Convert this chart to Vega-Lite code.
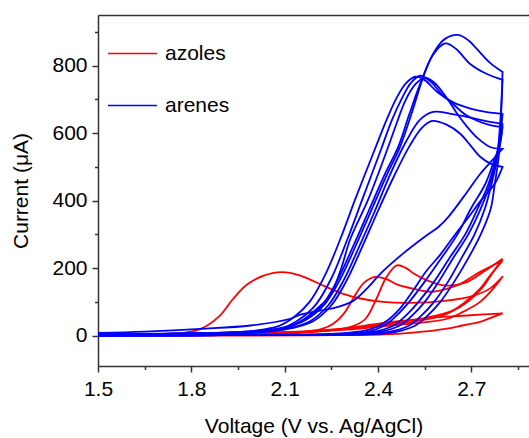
{
"$schema": "https://vega.github.io/schema/vega-lite/v6.json",
"width": 431, "height": 351,
"autosize": {"type": "none"},
"padding": {"left": 98, "top": 15, "right": 0, "bottom": 72},
"background": "white",
"config": {"view": {"stroke": null}, "font": "Liberation Sans"},
"datasets": {"cv": [
{"g":"azoles","s":"a1","v":1.5,"c":3},{"g":"azoles","s":"a1","v":1.6,"c":4},{"g":"azoles","s":"a1","v":1.7,"c":5},{"g":"azoles","s":"a1","v":1.78,"c":9},{"g":"azoles","s":"a1","v":1.83,"c":20},{"g":"azoles","s":"a1","v":1.89,"c":58},{"g":"azoles","s":"a1","v":1.935,"c":110},{"g":"azoles","s":"a1","v":1.98,"c":152},{"g":"azoles","s":"a1","v":2.03,"c":177},{"g":"azoles","s":"a1","v":2.09,"c":188},{"g":"azoles","s":"a1","v":2.15,"c":178},{"g":"azoles","s":"a1","v":2.224,"c":148},{"g":"azoles","s":"a1","v":2.288,"c":124},{"g":"azoles","s":"a1","v":2.343,"c":110},{"g":"azoles","s":"a1","v":2.416,"c":100},{"g":"azoles","s":"a1","v":2.5,"c":97},{"g":"azoles","s":"a1","v":2.62,"c":104},{"g":"azoles","s":"a1","v":2.706,"c":118},{"g":"azoles","s":"a1","v":2.76,"c":140},{"g":"azoles","s":"a1","v":2.8,"c":175},{"g":"azoles","s":"a1","v":2.8,"c":175},{"g":"azoles","s":"a1","v":2.77,"c":139},{"g":"azoles","s":"a1","v":2.728,"c":100},{"g":"azoles","s":"a1","v":2.674,"c":71},{"g":"azoles","s":"a1","v":2.622,"c":50},{"g":"azoles","s":"a1","v":2.513,"c":36},{"g":"azoles","s":"a1","v":2.407,"c":27},{"g":"azoles","s":"a1","v":2.3,"c":18},{"g":"azoles","s":"a1","v":2.15,"c":10},{"g":"azoles","s":"a1","v":1.95,"c":6},{"g":"azoles","s":"a1","v":1.7,"c":4},{"g":"azoles","s":"a1","v":1.5,"c":2},
{"g":"azoles","s":"a2","v":1.5,"c":1},{"g":"azoles","s":"a2","v":1.8,"c":3},{"g":"azoles","s":"a2","v":2.0,"c":5},{"g":"azoles","s":"a2","v":2.15,"c":10},{"g":"azoles","s":"a2","v":2.22,"c":20},{"g":"azoles","s":"a2","v":2.256,"c":35},{"g":"azoles","s":"a2","v":2.29,"c":65},{"g":"azoles","s":"a2","v":2.32,"c":110},{"g":"azoles","s":"a2","v":2.353,"c":155},{"g":"azoles","s":"a2","v":2.39,"c":174},{"g":"azoles","s":"a2","v":2.425,"c":168},{"g":"azoles","s":"a2","v":2.46,"c":152},{"g":"azoles","s":"a2","v":2.513,"c":139},{"g":"azoles","s":"a2","v":2.568,"c":130},{"g":"azoles","s":"a2","v":2.622,"c":139},{"g":"azoles","s":"a2","v":2.664,"c":153},{"g":"azoles","s":"a2","v":2.728,"c":189},{"g":"azoles","s":"a2","v":2.8,"c":222},{"g":"azoles","s":"a2","v":2.8,"c":222},{"g":"azoles","s":"a2","v":2.76,"c":178},{"g":"azoles","s":"a2","v":2.728,"c":139},{"g":"azoles","s":"a2","v":2.674,"c":95},{"g":"azoles","s":"a2","v":2.622,"c":65},{"g":"azoles","s":"a2","v":2.513,"c":41},{"g":"azoles","s":"a2","v":2.407,"c":30},{"g":"azoles","s":"a2","v":2.3,"c":20},{"g":"azoles","s":"a2","v":2.15,"c":11},{"g":"azoles","s":"a2","v":1.95,"c":6},{"g":"azoles","s":"a2","v":1.7,"c":3},{"g":"azoles","s":"a2","v":1.5,"c":1},
{"g":"azoles","s":"a3","v":1.5,"c":2},{"g":"azoles","s":"a3","v":1.8,"c":4},{"g":"azoles","s":"a3","v":2.0,"c":6},{"g":"azoles","s":"a3","v":2.15,"c":10},{"g":"azoles","s":"a3","v":2.25,"c":16},{"g":"azoles","s":"a3","v":2.32,"c":28},{"g":"azoles","s":"a3","v":2.36,"c":50},{"g":"azoles","s":"a3","v":2.395,"c":110},{"g":"azoles","s":"a3","v":2.425,"c":170},{"g":"azoles","s":"a3","v":2.46,"c":208},{"g":"azoles","s":"a3","v":2.49,"c":200},{"g":"azoles","s":"a3","v":2.513,"c":185},{"g":"azoles","s":"a3","v":2.568,"c":160},{"g":"azoles","s":"a3","v":2.622,"c":148},{"g":"azoles","s":"a3","v":2.68,"c":157},{"g":"azoles","s":"a3","v":2.74,"c":190},{"g":"azoles","s":"a3","v":2.8,"c":228},{"g":"azoles","s":"a3","v":2.8,"c":228},{"g":"azoles","s":"a3","v":2.765,"c":182},{"g":"azoles","s":"a3","v":2.735,"c":142},{"g":"azoles","s":"a3","v":2.69,"c":102},{"g":"azoles","s":"a3","v":2.64,"c":74},{"g":"azoles","s":"a3","v":2.55,"c":52},{"g":"azoles","s":"a3","v":2.45,"c":37},{"g":"azoles","s":"a3","v":2.35,"c":26},{"g":"azoles","s":"a3","v":2.2,"c":15},{"g":"azoles","s":"a3","v":2.0,"c":8},{"g":"azoles","s":"a3","v":1.7,"c":4},{"g":"azoles","s":"a3","v":1.5,"c":2},
{"g":"azoles","s":"a4","v":1.5,"c":2},{"g":"azoles","s":"a4","v":1.8,"c":4},{"g":"azoles","s":"a4","v":2.0,"c":6},{"g":"azoles","s":"a4","v":2.2,"c":12},{"g":"azoles","s":"a4","v":2.3,"c":22},{"g":"azoles","s":"a4","v":2.407,"c":36},{"g":"azoles","s":"a4","v":2.513,"c":47},{"g":"azoles","s":"a4","v":2.622,"c":56},{"g":"azoles","s":"a4","v":2.728,"c":62},{"g":"azoles","s":"a4","v":2.8,"c":66},{"g":"azoles","s":"a4","v":2.8,"c":66},{"g":"azoles","s":"a4","v":2.76,"c":52},{"g":"azoles","s":"a4","v":2.728,"c":41},{"g":"azoles","s":"a4","v":2.67,"c":30},{"g":"azoles","s":"a4","v":2.622,"c":21},{"g":"azoles","s":"a4","v":2.513,"c":9},{"g":"azoles","s":"a4","v":2.407,"c":3},{"g":"azoles","s":"a4","v":2.2,"c":1},{"g":"azoles","s":"a4","v":1.9,"c":0},{"g":"azoles","s":"a4","v":1.5,"c":0},
{"g":"arenes","s":"b1","v":1.5,"c":4},{"g":"arenes","s":"b1","v":1.7,"c":6},{"g":"arenes","s":"b1","v":1.9,"c":9},{"g":"arenes","s":"b1","v":2.0,"c":13},{"g":"arenes","s":"b1","v":2.1,"c":24},{"g":"arenes","s":"b1","v":2.17,"c":48},{"g":"arenes","s":"b1","v":2.23,"c":95},{"g":"arenes","s":"b1","v":2.28,"c":170},{"g":"arenes","s":"b1","v":2.33,"c":270},{"g":"arenes","s":"b1","v":2.38,"c":375},{"g":"arenes","s":"b1","v":2.43,"c":480},{"g":"arenes","s":"b1","v":2.471,"c":560},{"g":"arenes","s":"b1","v":2.51,"c":665},{"g":"arenes","s":"b1","v":2.545,"c":766},{"g":"arenes","s":"b1","v":2.58,"c":840},{"g":"arenes","s":"b1","v":2.616,"c":880},{"g":"arenes","s":"b1","v":2.657,"c":891},{"g":"arenes","s":"b1","v":2.69,"c":875},{"g":"arenes","s":"b1","v":2.718,"c":849},{"g":"arenes","s":"b1","v":2.76,"c":808},{"g":"arenes","s":"b1","v":2.8,"c":781},{"g":"arenes","s":"b1","v":2.8,"c":781},{"g":"arenes","s":"b1","v":2.797,"c":700},{"g":"arenes","s":"b1","v":2.793,"c":600},{"g":"arenes","s":"b1","v":2.787,"c":524},{"g":"arenes","s":"b1","v":2.775,"c":450},{"g":"arenes","s":"b1","v":2.762,"c":376},{"g":"arenes","s":"b1","v":2.73,"c":300},{"g":"arenes","s":"b1","v":2.689,"c":228},{"g":"arenes","s":"b1","v":2.645,"c":160},{"g":"arenes","s":"b1","v":2.6,"c":100},{"g":"arenes","s":"b1","v":2.56,"c":60},{"g":"arenes","s":"b1","v":2.52,"c":30},{"g":"arenes","s":"b1","v":2.45,"c":10},{"g":"arenes","s":"b1","v":2.35,"c":4},{"g":"arenes","s":"b1","v":2.1,"c":2},{"g":"arenes","s":"b1","v":1.8,"c":1},{"g":"arenes","s":"b1","v":1.5,"c":0},
{"g":"arenes","s":"b2","v":1.5,"c":3},{"g":"arenes","s":"b2","v":1.7,"c":5},{"g":"arenes","s":"b2","v":1.9,"c":8},{"g":"arenes","s":"b2","v":2.0,"c":12},{"g":"arenes","s":"b2","v":2.1,"c":22},{"g":"arenes","s":"b2","v":2.16,"c":45},{"g":"arenes","s":"b2","v":2.22,"c":90},{"g":"arenes","s":"b2","v":2.27,"c":165},{"g":"arenes","s":"b2","v":2.32,"c":265},{"g":"arenes","s":"b2","v":2.37,"c":370},{"g":"arenes","s":"b2","v":2.42,"c":475},{"g":"arenes","s":"b2","v":2.465,"c":560},{"g":"arenes","s":"b2","v":2.5,"c":655},{"g":"arenes","s":"b2","v":2.535,"c":745},{"g":"arenes","s":"b2","v":2.575,"c":830},{"g":"arenes","s":"b2","v":2.616,"c":866},{"g":"arenes","s":"b2","v":2.65,"c":850},{"g":"arenes","s":"b2","v":2.696,"c":805},{"g":"arenes","s":"b2","v":2.75,"c":775},{"g":"arenes","s":"b2","v":2.8,"c":758},{"g":"arenes","s":"b2","v":2.8,"c":758},{"g":"arenes","s":"b2","v":2.796,"c":680},{"g":"arenes","s":"b2","v":2.79,"c":600},{"g":"arenes","s":"b2","v":2.782,"c":524},{"g":"arenes","s":"b2","v":2.765,"c":450},{"g":"arenes","s":"b2","v":2.743,"c":376},{"g":"arenes","s":"b2","v":2.71,"c":300},{"g":"arenes","s":"b2","v":2.667,"c":228},{"g":"arenes","s":"b2","v":2.625,"c":160},{"g":"arenes","s":"b2","v":2.58,"c":100},{"g":"arenes","s":"b2","v":2.54,"c":60},{"g":"arenes","s":"b2","v":2.5,"c":30},{"g":"arenes","s":"b2","v":2.43,"c":10},{"g":"arenes","s":"b2","v":2.33,"c":4},{"g":"arenes","s":"b2","v":2.1,"c":2},{"g":"arenes","s":"b2","v":1.8,"c":1},{"g":"arenes","s":"b2","v":1.5,"c":0},
{"g":"arenes","s":"b3","v":1.5,"c":3},{"g":"arenes","s":"b3","v":1.7,"c":5},{"g":"arenes","s":"b3","v":1.9,"c":9},{"g":"arenes","s":"b3","v":2.0,"c":14},{"g":"arenes","s":"b3","v":2.08,"c":28},{"g":"arenes","s":"b3","v":2.13,"c":55},{"g":"arenes","s":"b3","v":2.18,"c":100},{"g":"arenes","s":"b3","v":2.23,"c":180},{"g":"arenes","s":"b3","v":2.279,"c":287},{"g":"arenes","s":"b3","v":2.327,"c":405},{"g":"arenes","s":"b3","v":2.39,"c":553},{"g":"arenes","s":"b3","v":2.43,"c":645},{"g":"arenes","s":"b3","v":2.46,"c":705},{"g":"arenes","s":"b3","v":2.49,"c":748},{"g":"arenes","s":"b3","v":2.52,"c":767},{"g":"arenes","s":"b3","v":2.55,"c":757},{"g":"arenes","s":"b3","v":2.59,"c":722},{"g":"arenes","s":"b3","v":2.64,"c":692},{"g":"arenes","s":"b3","v":2.7,"c":672},{"g":"arenes","s":"b3","v":2.75,"c":662},{"g":"arenes","s":"b3","v":2.8,"c":657},{"g":"arenes","s":"b3","v":2.8,"c":657},{"g":"arenes","s":"b3","v":2.792,"c":590},{"g":"arenes","s":"b3","v":2.778,"c":524},{"g":"arenes","s":"b3","v":2.755,"c":450},{"g":"arenes","s":"b3","v":2.72,"c":376},{"g":"arenes","s":"b3","v":2.68,"c":300},{"g":"arenes","s":"b3","v":2.628,"c":228},{"g":"arenes","s":"b3","v":2.58,"c":160},{"g":"arenes","s":"b3","v":2.53,"c":100},{"g":"arenes","s":"b3","v":2.49,"c":60},{"g":"arenes","s":"b3","v":2.45,"c":30},{"g":"arenes","s":"b3","v":2.38,"c":10},{"g":"arenes","s":"b3","v":2.28,"c":4},{"g":"arenes","s":"b3","v":2.0,"c":2},{"g":"arenes","s":"b3","v":1.5,"c":0},
{"g":"arenes","s":"b4","v":1.5,"c":3},{"g":"arenes","s":"b4","v":1.7,"c":5},{"g":"arenes","s":"b4","v":1.9,"c":8},{"g":"arenes","s":"b4","v":2.0,"c":12},{"g":"arenes","s":"b4","v":2.1,"c":25},{"g":"arenes","s":"b4","v":2.15,"c":50},{"g":"arenes","s":"b4","v":2.2,"c":92},{"g":"arenes","s":"b4","v":2.25,"c":170},{"g":"arenes","s":"b4","v":2.302,"c":287},{"g":"arenes","s":"b4","v":2.35,"c":405},{"g":"arenes","s":"b4","v":2.41,"c":553},{"g":"arenes","s":"b4","v":2.445,"c":640},{"g":"arenes","s":"b4","v":2.475,"c":700},{"g":"arenes","s":"b4","v":2.505,"c":748},{"g":"arenes","s":"b4","v":2.535,"c":770},{"g":"arenes","s":"b4","v":2.57,"c":752},{"g":"arenes","s":"b4","v":2.6,"c":720},{"g":"arenes","s":"b4","v":2.64,"c":687},{"g":"arenes","s":"b4","v":2.68,"c":655},{"g":"arenes","s":"b4","v":2.72,"c":636},{"g":"arenes","s":"b4","v":2.76,"c":624},{"g":"arenes","s":"b4","v":2.8,"c":618},{"g":"arenes","s":"b4","v":2.8,"c":618},{"g":"arenes","s":"b4","v":2.79,"c":560},{"g":"arenes","s":"b4","v":2.775,"c":524},{"g":"arenes","s":"b4","v":2.745,"c":450},{"g":"arenes","s":"b4","v":2.698,"c":376},{"g":"arenes","s":"b4","v":2.655,"c":300},{"g":"arenes","s":"b4","v":2.602,"c":228},{"g":"arenes","s":"b4","v":2.55,"c":160},{"g":"arenes","s":"b4","v":2.5,"c":100},{"g":"arenes","s":"b4","v":2.46,"c":60},{"g":"arenes","s":"b4","v":2.42,"c":30},{"g":"arenes","s":"b4","v":2.36,"c":10},{"g":"arenes","s":"b4","v":2.26,"c":4},{"g":"arenes","s":"b4","v":2.0,"c":2},{"g":"arenes","s":"b4","v":1.5,"c":0},
{"g":"arenes","s":"b5","v":1.5,"c":2},{"g":"arenes","s":"b5","v":1.7,"c":4},{"g":"arenes","s":"b5","v":1.9,"c":7},{"g":"arenes","s":"b5","v":2.0,"c":11},{"g":"arenes","s":"b5","v":2.1,"c":22},{"g":"arenes","s":"b5","v":2.16,"c":48},{"g":"arenes","s":"b5","v":2.21,"c":85},{"g":"arenes","s":"b5","v":2.246,"c":120},{"g":"arenes","s":"b5","v":2.28,"c":195},{"g":"arenes","s":"b5","v":2.311,"c":287},{"g":"arenes","s":"b5","v":2.369,"c":405},{"g":"arenes","s":"b5","v":2.43,"c":553},{"g":"arenes","s":"b5","v":2.46,"c":630},{"g":"arenes","s":"b5","v":2.487,"c":695},{"g":"arenes","s":"b5","v":2.52,"c":745},{"g":"arenes","s":"b5","v":2.55,"c":764},{"g":"arenes","s":"b5","v":2.58,"c":750},{"g":"arenes","s":"b5","v":2.62,"c":705},{"g":"arenes","s":"b5","v":2.66,"c":650},{"g":"arenes","s":"b5","v":2.687,"c":618},{"g":"arenes","s":"b5","v":2.72,"c":585},{"g":"arenes","s":"b5","v":2.76,"c":559},{"g":"arenes","s":"b5","v":2.8,"c":553},{"g":"arenes","s":"b5","v":2.8,"c":553},{"g":"arenes","s":"b5","v":2.771,"c":524},{"g":"arenes","s":"b5","v":2.728,"c":479},{"g":"arenes","s":"b5","v":2.677,"c":414},{"g":"arenes","s":"b5","v":2.626,"c":352},{"g":"arenes","s":"b5","v":2.594,"c":322},{"g":"arenes","s":"b5","v":2.55,"c":293},{"g":"arenes","s":"b5","v":2.48,"c":243},{"g":"arenes","s":"b5","v":2.407,"c":183},{"g":"arenes","s":"b5","v":2.37,"c":145},{"g":"arenes","s":"b5","v":2.32,"c":103},{"g":"arenes","s":"b5","v":2.26,"c":82},{"g":"arenes","s":"b5","v":2.2,"c":72},{"g":"arenes","s":"b5","v":2.15,"c":62},{"g":"arenes","s":"b5","v":2.118,"c":50},{"g":"arenes","s":"b5","v":1.99,"c":30},{"g":"arenes","s":"b5","v":1.83,"c":20},{"g":"arenes","s":"b5","v":1.65,"c":12},{"g":"arenes","s":"b5","v":1.5,"c":8},
{"g":"arenes","s":"b6","v":1.5,"c":2},{"g":"arenes","s":"b6","v":1.7,"c":4},{"g":"arenes","s":"b6","v":1.9,"c":7},{"g":"arenes","s":"b6","v":2.0,"c":10},{"g":"arenes","s":"b6","v":2.1,"c":20},{"g":"arenes","s":"b6","v":2.18,"c":42},{"g":"arenes","s":"b6","v":2.24,"c":90},{"g":"arenes","s":"b6","v":2.29,"c":165},{"g":"arenes","s":"b6","v":2.34,"c":265},{"g":"arenes","s":"b6","v":2.39,"c":370},{"g":"arenes","s":"b6","v":2.44,"c":480},{"g":"arenes","s":"b6","v":2.49,"c":575},{"g":"arenes","s":"b6","v":2.535,"c":640},{"g":"arenes","s":"b6","v":2.577,"c":663},{"g":"arenes","s":"b6","v":2.63,"c":658},{"g":"arenes","s":"b6","v":2.686,"c":648},{"g":"arenes","s":"b6","v":2.74,"c":637},{"g":"arenes","s":"b6","v":2.8,"c":627},{"g":"arenes","s":"b6","v":2.8,"c":627},{"g":"arenes","s":"b6","v":2.792,"c":570},{"g":"arenes","s":"b6","v":2.78,"c":524},{"g":"arenes","s":"b6","v":2.76,"c":450},{"g":"arenes","s":"b6","v":2.73,"c":376},{"g":"arenes","s":"b6","v":2.69,"c":300},{"g":"arenes","s":"b6","v":2.64,"c":228},{"g":"arenes","s":"b6","v":2.595,"c":160},{"g":"arenes","s":"b6","v":2.55,"c":100},{"g":"arenes","s":"b6","v":2.51,"c":60},{"g":"arenes","s":"b6","v":2.47,"c":30},{"g":"arenes","s":"b6","v":2.4,"c":10},{"g":"arenes","s":"b6","v":2.3,"c":4},{"g":"arenes","s":"b6","v":2.0,"c":2},{"g":"arenes","s":"b6","v":1.5,"c":0},
{"g":"arenes","s":"b7","v":1.5,"c":2},{"g":"arenes","s":"b7","v":1.7,"c":4},{"g":"arenes","s":"b7","v":1.9,"c":6},{"g":"arenes","s":"b7","v":2.0,"c":9},{"g":"arenes","s":"b7","v":2.1,"c":18},{"g":"arenes","s":"b7","v":2.19,"c":42},{"g":"arenes","s":"b7","v":2.25,"c":90},{"g":"arenes","s":"b7","v":2.3,"c":165},{"g":"arenes","s":"b7","v":2.35,"c":265},{"g":"arenes","s":"b7","v":2.4,"c":370},{"g":"arenes","s":"b7","v":2.45,"c":470},{"g":"arenes","s":"b7","v":2.5,"c":560},{"g":"arenes","s":"b7","v":2.54,"c":615},{"g":"arenes","s":"b7","v":2.574,"c":636},{"g":"arenes","s":"b7","v":2.62,"c":625},{"g":"arenes","s":"b7","v":2.664,"c":598},{"g":"arenes","s":"b7","v":2.7,"c":560},{"g":"arenes","s":"b7","v":2.728,"c":530},{"g":"arenes","s":"b7","v":2.765,"c":508},{"g":"arenes","s":"b7","v":2.8,"c":500},{"g":"arenes","s":"b7","v":2.8,"c":500},{"g":"arenes","s":"b7","v":2.775,"c":450},{"g":"arenes","s":"b7","v":2.73,"c":400},{"g":"arenes","s":"b7","v":2.69,"c":350},{"g":"arenes","s":"b7","v":2.64,"c":290},{"g":"arenes","s":"b7","v":2.6,"c":240},{"g":"arenes","s":"b7","v":2.554,"c":190},{"g":"arenes","s":"b7","v":2.51,"c":130},{"g":"arenes","s":"b7","v":2.47,"c":80},{"g":"arenes","s":"b7","v":2.43,"c":45},{"g":"arenes","s":"b7","v":2.38,"c":20},{"g":"arenes","s":"b7","v":2.3,"c":8},{"g":"arenes","s":"b7","v":2.1,"c":3},{"g":"arenes","s":"b7","v":1.5,"c":0}
]},
"layer": [
{"data": {"name": "cv"},
 "mark": {"type": "line", "interpolate": "catmull-rom", "strokeWidth": 1.8},
 "encoding": {
  "x": {"field": "v", "type": "quantitative",
   "scale": {"domain": [1.5, 2.885], "nice": false, "zero": false},
   "axis": {"values": [1.5,1.65,1.8,1.95,2.1,2.25,2.4,2.55,2.7,2.85], "format": ".1f",
    "labelExpr": "round(datum.value*100) % 30 == 0 ? datum.label : ''",
    "tickSize": {"condition": {"test": "round(datum.value*100) % 30 == 0", "value": 6}, "value": 3.5},
    "grid": false, "title": "Voltage (V vs. Ag/AgCl)", "domainColor": "#333", "tickColor": "#333",
    "domainWidth": 1.5, "tickWidth": 1.5, "labelFontSize": 21, "titleFontSize": 21, "titleFontWeight": "normal",
    "labelColor": "black", "titleColor": "black", "labelPadding": 6, "titlePadding": 16, "labelFlush": false, "labelOverlap": false}},
  "y": {"field": "c", "type": "quantitative",
   "scale": {"domain": [-90, 950], "nice": false, "zero": false},
   "axis": {"values": [0,100,200,300,400,500,600,700,800,900],
    "labelExpr": "datum.value % 200 == 0 ? datum.label : ''",
    "tickSize": {"condition": {"test": "datum.value % 200 == 0", "value": 6}, "value": 3.5},
    "grid": false, "title": "Current (μA)", "domainColor": "#333", "tickColor": "#333",
    "domainWidth": 1.5, "tickWidth": 1.5, "labelFontSize": 21, "titleFontSize": 21, "titleFontWeight": "normal",
    "labelColor": "black", "titleColor": "black", "labelPadding": 5, "titlePadding": 20, "labelOverlap": false}},
  "color": {"field": "g", "type": "nominal",
   "scale": {"domain": ["azoles", "arenes"], "range": ["#ff0000", "#0000ff"]},
   "legend": {"title": null, "orient": "none", "legendX": 9, "legendY": 13, "symbolType": "stroke",
    "symbolSize": 2401, "symbolStrokeWidth": 1.5, "labelFontSize": 21, "labelOffset": 7, "rowPadding": 16,
    "padding": 0, "labelColor": "black"}},
  "detail": {"field": "s"},
  "order": {"value": null}
 }},
{"data": {"values": [{}]},
 "mark": {"type": "rule", "strokeOpacity": 0},
 "encoding": {"x": {"datum": 1.5, "type": "quantitative",
  "axis": {"orient": "top", "labels": false, "ticks": false, "title": null, "grid": false, "domainColor": "#333", "domainWidth": 1.5}}}}
],
"resolve": {"axis": {"x": "independent"}}
}
